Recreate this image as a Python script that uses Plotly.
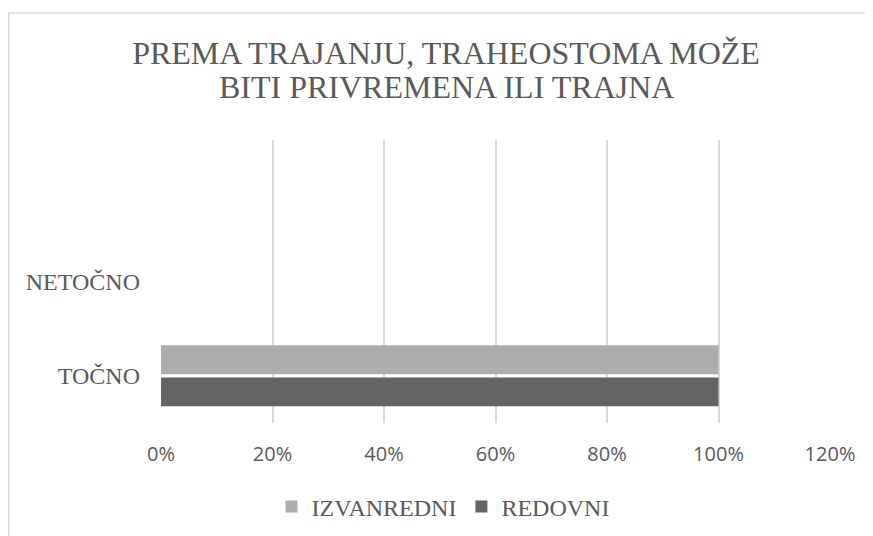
import plotly.graph_objects as go

# ---- data ----
categories = ["TOČNO", "NETOČNO", " "]
izvanredni = [1.0, 0.0, None]
redovni = [1.0, 0.0, None]
x_ticks = [0, 0.2, 0.4, 0.6, 0.8, 1.0, 1.2]
title_line1 = "PREMA TRAJANJU, TRAHEOSTOMA MOŽE"
title_line2 = "BITI PRIVREMENA ILI TRAJNA"

# page has an 8px body margin; figure occupies page (8..873, 8..536)
OFF = 8
W, H = 873 - OFF, 536 - OFF
PLOT_L, PLOT_R, PLOT_T, PLOT_B = 161, 830, 140, 423
L, R, T, B = PLOT_L - OFF, 873 - PLOT_R, PLOT_T - OFF, 536 - PLOT_B
plot_w = W - L - R
plot_h = H - T - B

def px_to_paper_x(px):
    return (px - PLOT_L) / plot_w

def px_to_paper_y(py):
    return (PLOT_B - py) / plot_h

def px_to_cont_x(px):
    return (px - OFF) / W

def px_to_cont_y(py):
    return 1 - (py - OFF) / H

TEXT = "#595959"
SERIF = "Liberation Serif, Times New Roman, serif"

fig = go.Figure()
fig.add_trace(go.Bar(
    name="REDOVNI", y=categories, x=redovni, orientation="h",
    marker=dict(color="#636363", line=dict(width=0)), legendrank=2,
))
fig.add_trace(go.Bar(
    name="IZVANREDNI", y=categories, x=izvanredni, orientation="h",
    marker=dict(color="#adadad", line=dict(width=0)), legendrank=1,
))

fig.update_layout(
    width=W, height=H,
    margin=dict(l=L, r=R, t=T, b=B, autoexpand=False),
    paper_bgcolor="white", plot_bgcolor="white",
    barmode="group", bargap=0.32, bargroupgap=0.1,
    title=dict(text=title_line1, x=px_to_cont_x(446), xanchor="center",
               y=px_to_cont_y(53), yanchor="middle", yref="container",
               font=dict(family=SERIF, size=32, color=TEXT)),
    xaxis=dict(range=[0, 1.2], tickvals=x_ticks, tickformat=".0%",
               showgrid=True, gridcolor="#d9d9d9", gridwidth=1.5,
               zeroline=False, showline=False, ticks="",
               ticklabelstandoff=17, automargin=False,
               tickfont=dict(family="Open Sans, sans-serif", size=20, color=TEXT)),
    yaxis=dict(type="category", categoryorder="array", categoryarray=categories,
               range=[-0.5, 2.5], showgrid=False, zeroline=False, showline=False,
               ticks="", ticklabelstandoff=20, automargin=False,
               tickfont=dict(family=SERIF, size=24, color=TEXT)),
    legend=dict(orientation="h", x=px_to_cont_x(443), xanchor="center",
                xref="container", yref="container",
                y=px_to_cont_y(507), yanchor="middle",
                font=dict(family=SERIF, size=24, color=TEXT),
                itemclick=False),
    showlegend=True,
    annotations=[dict(text=title_line2, xref="paper", yref="paper",
                      x=px_to_paper_x(446), y=px_to_paper_y(87),
                      xanchor="center", yanchor="middle", showarrow=False,
                      font=dict(family=SERIF, size=32, color=TEXT))],
    shapes=[dict(type="rect", xref="paper", yref="paper",
                 x0=px_to_paper_x(8.75), x1=px_to_paper_x(873 + 20),
                 y0=px_to_paper_y(536 + 20), y1=px_to_paper_y(13),
                 line=dict(color="#d9d9d9", width=1.5), layer="below")],
)

fig.write_html("out.html")
